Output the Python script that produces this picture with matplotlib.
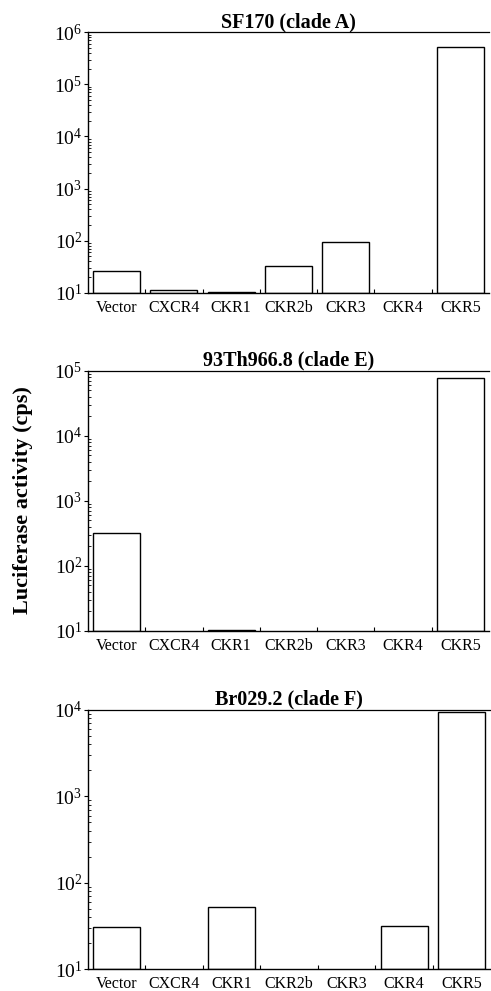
import numpy as np
import matplotlib
matplotlib.use("Agg")
import matplotlib.pyplot as plt

# ========= data =========
receptors = ["Vector", "CXCR4", "CKR1", "CKR2b", "CKR3", "CKR4", "CKR5"]

titles = ["SF170 (clade A)", "93Th966.8 (clade E)", "Br029.2 (clade F)"]

# luciferase activity (cps); NaN = no signal above the 10^1 baseline
sf170 = [26, 11.3, 10.3, 32, 95, np.nan, 5.3e5]
th966 = [324, np.nan, 10.2, np.nan, np.nan, np.nan, 7.8e4]
br029 = [31, np.nan, 52, np.nan, np.nan, 32, 9.5e3]

y_tops = [1e6, 1e5, 1e4]
baseline = 10

# ========= style =========
plt.rcParams.update(
    {
        "font.family": "Liberation Serif",
        "mathtext.fontset": "stix",
        "font.size": 11.5,
        "axes.linewidth": 1.0,
    }
)

fig = plt.figure(figsize=(4.91, 9.91), dpi=100)

# axes rectangles in figure fraction (left, bottom, width, height)
rects = [
    (0.179, 0.7046, 0.817, 0.2628),
    (0.179, 0.3633, 0.817, 0.2627),
    (0.179, 0.0219, 0.820, 0.2617),
]

datasets = [sf170, th966, br029]
x = np.arange(len(receptors))

for rect, vals, title, ytop in zip(rects, datasets, titles, y_tops):
    ax = fig.add_axes(rect)
    vals = np.array(vals, dtype=float)
    heights = vals - baseline
    ax.bar(
        x,
        heights,
        bottom=baseline,
        width=0.82,
        color="white",
        edgecolor="black",
        linewidth=1.0,
    )
    ax.set_yscale("log")
    ax.set_ylim(baseline, ytop)
    ax.set_xlim(-0.5, len(receptors) - 0.5)

    ax.set_xticks(x)
    ax.set_xticklabels(receptors, fontsize=11.5)
    ax.set_xticks(x[:-1] + 0.5, minor=True)
    ax.tick_params(axis="x", which="major", length=0, pad=5)
    ax.tick_params(axis="x", which="minor", direction="in", length=3, width=0.8)

    ax.tick_params(axis="y", which="major", direction="out", length=3, labelsize=14, pad=1)
    ax.tick_params(axis="y", which="minor", direction="in", length=2, width=0.6)

    ax.spines["right"].set_visible(False)
    ax.spines["top"].set_linewidth(0.9)

    ax.set_title(title, fontsize=14.5, fontweight="bold", pad=2)

fig.text(
    0.047,
    0.495,
    "Luciferase activity (cps)",
    rotation=90,
    ha="center",
    va="center",
    fontsize=16,
    fontweight="bold",
)

fig.savefig("out.png", dpi=100)
